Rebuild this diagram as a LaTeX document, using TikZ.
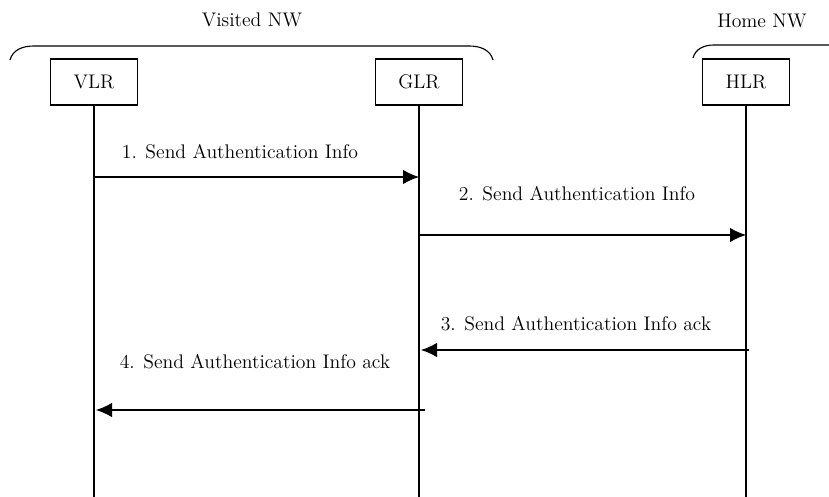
\documentclass[tikz,border=0pt]{standalone}
\usetikzlibrary{arrows.meta}

\tikzset{
  ent/.style={draw, line width=1.1pt, minimum width=87*0.025cm, minimum height=46*0.025cm, inner sep=0pt},
  msg/.style={line width=0.8pt, -{Latex[length=0.4cm, width=0.36cm]}},
  lbl/.style={inner sep=0pt},
  brace/.style={line width=0.8pt}
}

\begin{document}
\begin{tikzpicture}[x=0.025cm, y=-0.025cm, font=\fontsize{14}{16}\selectfont]

  \useasboundingbox (0,0) rectangle (829,497);

  % networks
  \node[lbl] (visited) at (252, 20) {Visited NW};
  \node[lbl] (home) at (762, 21) {Home NW};
  \draw[brace] (10,60) to[out=75, in=180] (34,46) -- (469,46) to[out=0, in=105] (493,60);
  \draw[brace] (693,58) to[out=75, in=180] (714,45) -- (829,45);

  % entities and lifelines
  \foreach \x/\name in {94/VLR,419/GLR,746/HLR} {
    \node[ent, fill=white] (\name) at (\x, 82) {\name};
    \coordinate (end\name) at (\x, 497);
    \draw[line width=0.8pt] (\name) -- (end\name);
  }

  % messages
  \foreach \i/\y/\from/\to/\a/\b in {1/177/VLR/GLR/0/0,2/235/GLR/HLR/0/0,3/350/HLR/GLR/3/2,4/410/GLR/VLR/6/2} {
    \coordinate (m\i s) at ([xshift=\a*0.025cm] end\from |- 0,\y);
    \coordinate (m\i t) at ([xshift=\b*0.025cm] end\to |- 0,\y);
    \draw[msg] (m\i s) -- (m\i t);
  }

  \node[lbl] (l1) at (240, 152) {1. Send Authentication Info};
  \node[lbl] (l2) at (577, 194) {2. Send Authentication Info};
  \node[lbl] (l3) at (576, 324) {3. Send Authentication Info ack};
  \node[lbl] (l4) at (255, 362) {4. Send Authentication Info ack};

\end{tikzpicture}
\end{document}
